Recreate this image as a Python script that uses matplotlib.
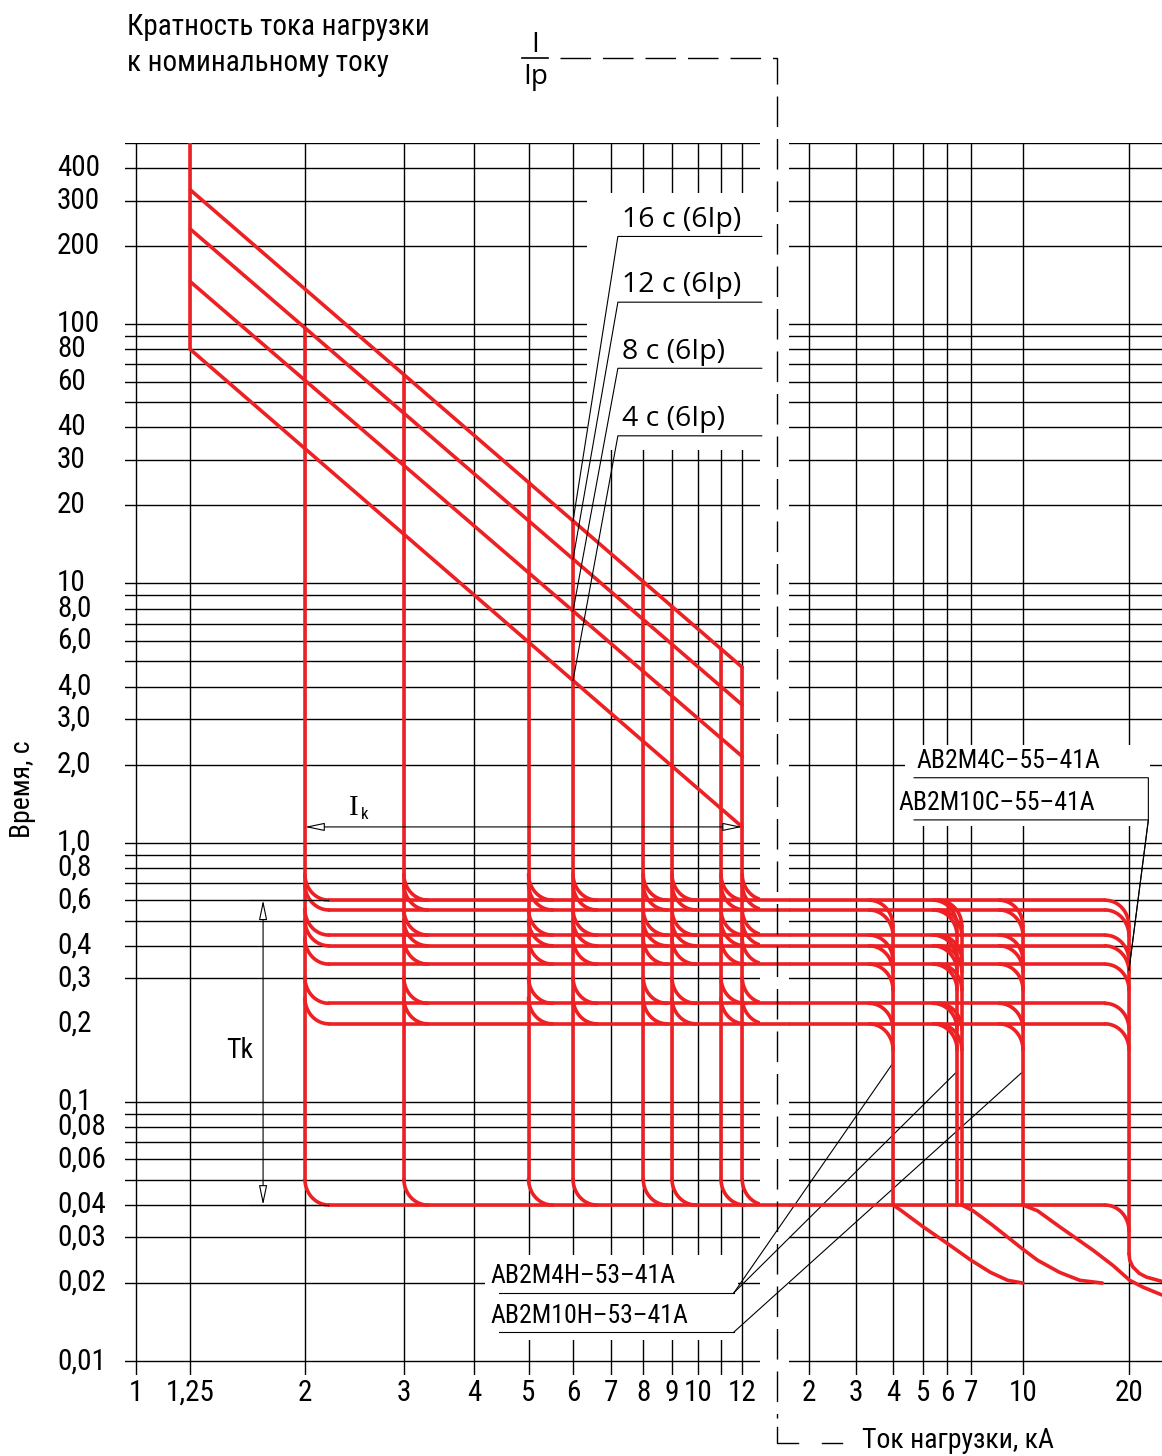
import numpy as np
import matplotlib.pyplot as plt
import matplotlib.transforms as mtransforms
from matplotlib import font_manager
from matplotlib.lines import Line2D
from matplotlib.patches import Rectangle

# multiples of rated current (left part) and load current in kA (right part)
mult_ticks = [1, 1.25, 2, 3, 4, 5, 6, 7, 8, 9, 10, 12]
mult_labels = ['1', '1,25', '2', '3', '4', '5', '6', '7', '8', '9', '10', '12']
mult_grid = [1, 1.25, 2, 3, 4, 5, 6, 7, 8, 9, 10, 11, 12]
ka_ticks = [2, 3, 4, 5, 6, 7, 10, 20]
ka_labels = ['2', '3', '4', '5', '6', '7', '10', '20']

time_grid = [500, 400, 300, 200, 100, 90, 80, 70, 60, 50, 40, 30, 20,
             10, 9, 8, 7, 6, 5, 4, 3, 2, 1, 0.9, 0.8, 0.7, 0.6, 0.5, 0.4, 0.3,
             0.1, 0.09, 0.08, 0.07, 0.06, 0.05, 0.04, 0.03, 0.02, 0.01]
time_ticks = [400, 300, 200, 100, 80, 60, 40, 30, 20, 10, 8, 6, 4, 3, 2, 1,
              0.8, 0.6, 0.4, 0.3, 0.2, 0.1, 0.08, 0.06, 0.04, 0.03, 0.02, 0.01]
time_labels = ['400', '300', '200', '100', '80', '60', '40', '30', '20', '10',
               '8,0', '6,0', '4,0', '3,0', '2,0', '1,0', '0,8', '0,6', '0,4',
               '0,3', '0,2', '0,1', '0,08', '0,06', '0,04', '0,03', '0,02', '0,01']

# overload curves, straight in log-log from 1.25 to 12 x Ip
overload_x = [1.25, 12]
overload_t0 = [330, 233, 146, 80]
overload_t1 = [4.75, 3.4, 2.15, 1.15]
overload_names = ['16 с (6Ip)', '12 с (6Ip)', '8 с (6Ip)', '4 с (6Ip)']

# short delay pickups and the overload curve each one starts from
pickup_mult = [2, 3, 5, 6, 8, 9, 11, 12]
pickup_curve = [1, 0, 0, 0, 0, 0, 0, 0]

# short delay times, s
delay_levels = [0.6, 0.55, 0.44, 0.4, 0.34, 0.24, 0.2]
t_inst = 0.04

# breaking current limits, kA
trip_ka = [4, 6.4, 6.6, 10, 20]

# tails below 0.04 s
tail4_ka = [4, 4.2, 5, 6, 7, 8, 9, 10]
tail4_t = [0.04, 0.0385, 0.033, 0.0285, 0.0245, 0.022, 0.0205, 0.02]
tail66_ka = [6.6, 7.1, 8.1, 10, 11, 12.7, 14.5, 16.8]
tail66_t = [0.04, 0.038, 0.0335, 0.027, 0.0245, 0.022, 0.0205, 0.02]
tail10_ka = [10, 11, 12.7, 15.8, 18, 20.1, 21.9, 24.8]
tail10_t = [0.04, 0.038, 0.033, 0.0268, 0.0234, 0.0205, 0.0193, 0.018]
tail20_ka = [20, 20.1, 20.5, 21.4, 22.4, 24.8]
tail20_t = [0.026, 0.0245, 0.0231, 0.0218, 0.0211, 0.0203]

# the kA scale of the drawing is not a clean log scale: tick positions along it
KA_KNOTS = [1.2, 1.5, 2, 3, 4, 5, 6, 7, 10, 20, 30]
KA_POS = [750, 776, 809, 856, 893, 923, 947, 971, 1023, 1129, 1191]


def ka_fwd(x):
    return np.interp(np.log10(np.clip(x, 1e-6, None)), np.log10(KA_KNOTS), KA_POS)


def ka_inv(p):
    return 10 ** np.interp(p, KA_POS, np.log10(KA_KNOTS))


names = {f.name for f in font_manager.fontManager.ttflist}
NARROW = next(n for n in ['Liberation Sans Narrow', 'Roboto Condensed', 'DejaVu Sans'] if n in names)
plt.rcParams['font.family'] = [NARROW, 'DejaVu Sans']

W, H = 1162, 1456
fig = plt.figure(figsize=(W / 100, H / 100), dpi=100)
ax = fig.add_axes([125 / W, 1 - 1375 / H, 635 / W, 1232 / H])
ax2 = fig.add_axes([789 / W, 1 - 1375 / H, 373 / W, 1232 / H])
for a in (ax, ax2):
    a.set_yscale('log')
    a.set_ylim(0.00884, 500)
    a.axis('off')
ax.set_xscale('log')
ax.set_xlim(0.957, 12.907)
ax2.set_xscale('function', functions=(ka_fwd, ka_inv))
ax2.set_xlim(ka_inv(789), ka_inv(1162))

GRID = dict(color='black', lw=1.0, zorder=1)
RED = dict(color='#ed2024', lw=2.6, solid_capstyle='round', zorder=3)
THIN = dict(color='black', lw=0.8, zorder=4)

for t in time_grid:
    ax.axhline(t, **GRID)
    ax2.axhline(t, **GRID)
for m in mult_grid:
    ax.axvline(m, **GRID)
for k in ka_ticks:
    ax2.axvline(k, **GRID)

# blank areas under the labels
ax.add_patch(Rectangle((6.36, 32.7), 20, 320 - 32.7, fc='white', ec='none', zorder=1.5))
ax.add_patch(Rectangle((4.18, 0.0121), 11.8 - 4.18, 0.0257 - 0.0121, fc='white', ec='none', zorder=1.5))
ax2.add_patch(Rectangle((4.37, 1.16), 22.9 - 4.37, 2.38 - 1.16, fc='white', ec='none', zorder=1.5))

R = (24, 26)  # corner radius in pixels


def shift(a, x, t, dx=0, dy=0):
    X, Y = a.transData.transform((x, t))
    return a.transData.inverted().transform((X + dx, Y + dy))


def corner(a, x, t, turn):
    X, Y = a.transData.transform((x, t))
    s = np.linspace(0, np.pi / 2, 16)
    if turn == 'down-right':
        px, py = X + R[0] * (1 - np.cos(s)), Y + R[1] * (1 - np.sin(s))
    else:
        px, py = X - R[0] * (1 - np.sin(s)), Y - R[1] * (1 - np.cos(s))
    pts = a.transData.inverted().transform(np.column_stack([px, py]))
    a.plot(pts[:, 0], pts[:, 1], **RED)


def overload(i, x):
    return 10 ** np.interp(np.log10(x), np.log10(overload_x),
                           np.log10([overload_t0[i], overload_t1[i]]))


# left part: overload curves and short delay pickups
ax.plot([1.25, 1.25], [500, overload_t0[3]], **RED)
for i in range(4):
    ax.plot(overload_x, [overload_t0[i], overload_t1[i]], **RED)

for m, k in zip(pickup_mult, pickup_curve):
    bottom = shift(ax, m, t_inst, dy=R[1])[1]
    ax.plot([m, m], [overload(k, m), bottom], **RED)
    for lv in delay_levels + [t_inst]:
        corner(ax, m, lv, 'down-right')

x_from = shift(ax, pickup_mult[0], 1, dx=R[0])[0]
x_gap = ax.transData.inverted().transform(ax2.transAxes.transform((0, 0.5)))[0]
for lv in delay_levels + [t_inst]:
    ax.plot([x_from, x_gap], [lv, lv], clip_on=False, **RED)

# right part: breaking current limits
x_to = shift(ax2, trip_ka[-1], 1, dx=-R[0])[0]
for lv in delay_levels + [t_inst]:
    ax2.plot([ax2.get_xlim()[0], x_to], [lv, lv], **RED)
top = shift(ax2, 1, delay_levels[0], dy=-R[1])[1]
for v in trip_ka:
    for lv in delay_levels:
        corner(ax2, v, lv, 'right-down')
    ax2.plot([v, v], [top, tail20_t[0] if v == trip_ka[-1] else t_inst], **RED)
corner(ax2, trip_ka[-1], t_inst, 'right-down')
for xs, ts in [(tail4_ka, tail4_t), (tail66_ka, tail66_t),
               (tail10_ka, tail10_t), (tail20_ka, tail20_t)]:
    ax2.plot(xs, ts, **RED)

# overload curve labels
LABEL_Y = [218, 121.6, 67.6, 37.1]
for i, name in enumerate(overload_names):
    y = LABEL_Y[i]
    ax.plot([13, 7.21, 6], [y, y, overload(i, 6)], clip_on=False, **THIN)
    ax.annotate(name, (7.33, y), xytext=(0, 7), textcoords='offset points',
                family=['Open Sans', 'DejaVu Sans'], fontsize=20.5,
                ha='left', va='baseline', zorder=5)

# breaker labels, right top
ax2.plot([4.68, 22.7, 22.7, 20], [1.78, 1.78, 1.224, 0.323], **THIN)
ax2.plot([4.68, 22.7, 20], [1.224, 1.224, 0.323], **THIN)
ax2.text(4.78, 2.066, 'АВ2М4С–55–41А', fontsize=18.5, ha='left', va='center', zorder=5)
ax2.text(4.18, 1.423, 'АВ2М10С–55–41А', fontsize=18.5, ha='left', va='center', zorder=5)


# breaker labels, bottom (leaders go into the kA part)
def from_ka(p):
    return ax.transData.inverted().transform(ax2.transData.transform(p))


for y, targets in [(0.01836, [(4, 0.1413), (6.4, 0.131)]), (0.01295, [(10, 0.131)])]:
    ax.plot([4.43, 11.6], [y, y], clip_on=False, **THIN)
    for p in targets:
        q = from_ka(p)
        ax.plot([11.6, q[0]], [y, q[1]], clip_on=False, **THIN)
ax.text(4.27, 0.02129, 'АВ2М4Н–53–41А', fontsize=18.5, ha='left', va='center', zorder=5)
ax.text(4.27, 0.01493, 'АВ2М10Н–53–41А', fontsize=18.5, ha='left', va='center', zorder=5)

# Ik and Tk dimensions
ARROW = dict(arrowstyle='<|-|>,head_length=1.2,head_width=0.25', fc='white',
             ec='black', lw=0.8, shrinkA=0, shrinkB=0)
t_ik = overload_t1[3]
ax.annotate('', xy=(2, t_ik), xytext=(12, t_ik), arrowprops=ARROW, zorder=5)
ax.annotate('', xy=(1.685, t_inst), xytext=(1.685, delay_levels[0]), arrowprops=ARROW, zorder=5)
ax.plot([1.6, 2.2], [t_inst, t_inst], **THIN)
ax.plot([1.6, 2.2], [delay_levels[0], delay_levels[0]], **THIN)
ax.text(1.533, 0.1585, 'Tk', fontsize=20, ha='center', va='center')
ax.text(2.445, 1.361, 'I', family=['Liberation Serif', 'DejaVu Serif'], fontsize=21,
        ha='center', va='center')
ax.text(2.559, 1.279, 'k', fontsize=12, ha='center', va='center')

# tick labels
ty = 1 - 1393 / H
trx = mtransforms.blended_transform_factory(ax.transData, fig.transFigure)
for v, s in zip(mult_ticks, mult_labels):
    ax.text(v, ty, s, transform=trx, fontsize=21, ha='center', va='center')
trx2 = mtransforms.blended_transform_factory(ax2.transData, fig.transFigure)
for v, s in zip(ka_ticks, ka_labels):
    ax2.text(v, ty, s, transform=trx2, fontsize=21, ha='center', va='center')
tr_y = mtransforms.blended_transform_factory(fig.transFigure, ax.transData)
for v, s in zip(time_ticks, time_labels):
    ax.text(57 / W, v, s, transform=tr_y, fontsize=21, ha='left', va='center')

fig.text(23 / W, 1 - 789 / H, 'Время, с', rotation=90, fontsize=20, ha='center', va='center')
fig.text(127 / W, 1 - 27 / H, 'Кратность тока нагрузки', fontsize=21, ha='left', va='center')
fig.text(127 / W, 1 - 63 / H, 'к номинальному току', fontsize=21, ha='left', va='center')
fig.text(862 / W, 1 - 1440 / H, 'Ток нагрузки, кА', fontsize=20, ha='left', va='center')

# I/Ip fraction and the dashed divider between the two scales
fig.text(535 / W, 1 - 45 / H, 'I', family=['Open Sans', 'DejaVu Sans'], fontsize=20, ha='center', va='center')
fig.text(536 / W, 1 - 77 / H, 'Ip', family=['Open Sans', 'DejaVu Sans'], fontsize=20, ha='center', va='center')


def fig_line(xs, ys, **kw):
    fig.add_artist(Line2D([x / W for x in xs], [1 - y / H for y in ys], color='black', **kw))


fig_line([522, 548], [58, 58], lw=1.2)
fig_line([560, 777, 777], [58, 58, 1418], lw=1.0, dashes=(22, 8.6))
fig_line([777, 777, 798], [1427, 1443, 1443], lw=1.0)
fig_line([822, 842], [1443, 1443], lw=1.0)

fig.savefig('out.png', dpi=100)
